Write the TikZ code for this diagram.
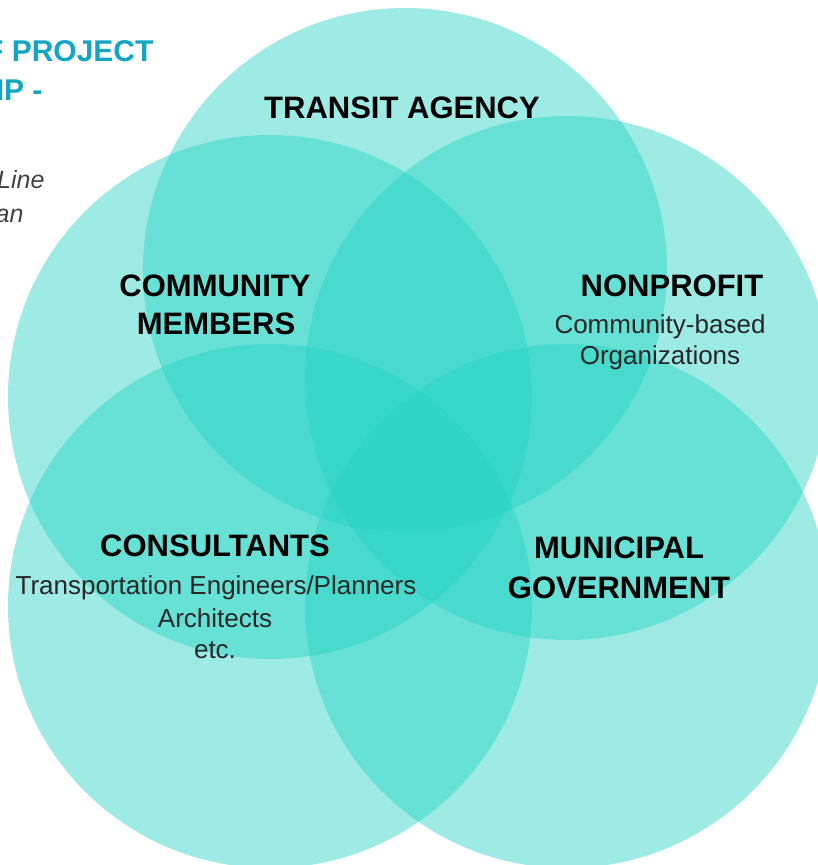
\documentclass[tikz,border=0pt]{standalone}
\usepackage{fontspec}
\setmainfont{Liberation Sans}
\definecolor{venn}{RGB}{37,211,196}
\definecolor{heading}{RGB}{18,166,194}

\begin{document}
\begin{tikzpicture}[x=1pt, y=-1pt,
  group/.style={fill=venn, fill opacity=0.45},
  grouptitle/.style={anchor=base, font=\fontsize{31}{36}\selectfont\bfseries},
  groupnote/.style={anchor=base, text=black!85, font=\fontsize{26}{30}\selectfont}]
  \useasboundingbox (0,0) rectangle (817,865);
  % centres of the five groups
  \coordinate (transit) at (405,270);
  \coordinate (community) at (270,397);
  \coordinate (nonprofit) at (567,378);
  \coordinate (consultants) at (270,606);
  \coordinate (municipal) at (567,606);
  \foreach \c in {transit,community,nonprofit,consultants,municipal}
    \fill[group] (\c) circle[radius=262pt];
  % heading and caption running in from the left
  \node[anchor=base east, text=heading, font=\fontsize{30}{36}\selectfont\bfseries]
    (head1) at (157,61) {F PROJECT};
  \node[anchor=base east, text=heading, font=\fontsize{30}{36}\selectfont\bfseries]
    (head2) at (46,100) {IP -};
  \node[anchor=base east, text=black!75, font=\fontsize{25}{30}\selectfont\itshape]
    (cap1) at (48,188) {Line};
  \node[anchor=base east, text=black!75, font=\fontsize{25}{30}\selectfont\itshape]
    (cap2) at (27,222) {an};
  % group labels
  \node[grouptitle] (transitT) at (402,118) {TRANSIT AGENCY};
  \node[grouptitle] (communityT1) at (215,296) {COMMUNITY};
  \node[grouptitle] (communityT2) at (216,334) {MEMBERS};
  \node[grouptitle] (nonprofitT) at (672,296) {NONPROFIT};
  \node[groupnote] (nonprofitN1) at (660,333) {Community-based};
  \node[groupnote] (nonprofitN2) at (660,364) {Organizations};
  \node[grouptitle] (consultantsT) at (215,556) {CONSULTANTS};
  \node[groupnote] (consultantsN1) at (216,594) {Transportation Engineers/Planners};
  \node[groupnote] (consultantsN2) at (215,627) {Architects};
  \node[groupnote] (consultantsN3) at (215,658) {etc.};
  \node[grouptitle] (municipalT1) at (619,558) {MUNICIPAL};
  \node[grouptitle] (municipalT2) at (619,598) {GOVERNMENT};
\end{tikzpicture}
\end{document}
